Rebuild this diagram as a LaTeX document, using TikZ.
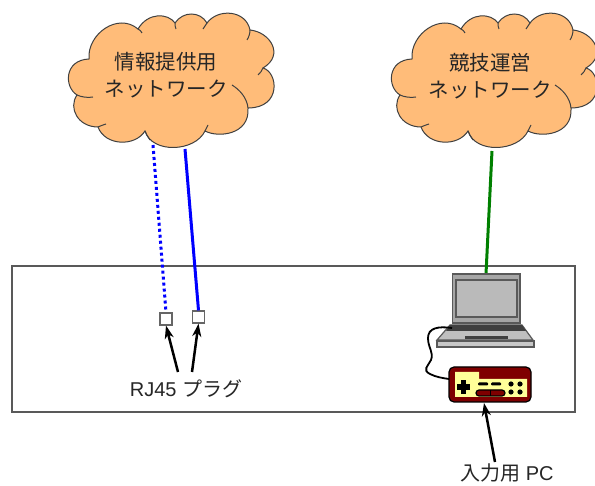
\documentclass[tikz,border=0pt]{standalone}
\usepackage{fontspec}
\setmainfont{Liberation Sans}
\newfontfamily\cjk{Noto Sans CJK JP}
\usetikzlibrary{arrows.meta}
\definecolor{cloudfill}{HTML}{FFBC79}
\definecolor{cloudline}{HTML}{404040}
\definecolor{padred}{HTML}{7F0000}
\definecolor{padyellow}{HTML}{FFFF99}
\newcommand{\cloudoutline}{
  (89,59) .. controls (87,34) and (118,12) .. (138,29)
  .. controls (148,12) and (168,13) .. (175,23)
  .. controls (183,11) and (200,11) .. (207,23)
  .. controls (218,8) and (246,10) .. (250,30)
  .. controls (270,32) and (285,55) .. (263,68)
  .. controls (278,72) and (282,108) .. (248,108)
  .. controls (250,135) and (218,138) .. (205,131)
  .. controls (195,152) and (152,154) .. (145,131)
  .. controls (135,147) and (105,146) .. (98,127)
  .. controls (78,127) and (68,108) .. (77,95)
  .. controls (64,87) and (64,60) .. (89,59) -- cycle
}
\newcommand{\cloudinner}{
  (77,95) .. controls (81,97) and (88,98) .. (93,97)
  (98,127) .. controls (100,126) and (103,125) .. (106,124)
  (145,131) .. controls (146,134) and (148,137) .. (150,140)
  (205,131) .. controls (206,129) and (207,127) .. (208,125)
  (248,108) .. controls (247,98) and (240,90) .. (232,85)
  (263,68) .. controls (262,71) and (260,73) .. (258,75)
  (250,30) .. controls (250,33) and (249,37) .. (247,40)
  (207,23) .. controls (206,25) and (204,27) .. (203,29)
  (175,23) .. controls (175,25) and (175,27) .. (176,29)
  (138,29) .. controls (140,30) and (141,31) .. (142,33)
}
\tikzset{
  cloudshape/.style={draw=cloudline,line width=1pt,fill=cloudfill},
  cloudcrease/.style={draw=cloudline,line width=1pt},
  cloudtext/.style={font=\cjk\fontsize{20.5}{27}\selectfont,align=center,inner sep=0pt,text=black!85},
  labeltext/.style={font=\fontsize{20}{24}\selectfont,inner sep=0pt,text=black!85},
  plug/.style={draw=black!60,line width=1.2pt,fill=white,minimum size=12pt,inner sep=0pt},
  wire/.style={line width=3pt},
  pointer/.style={line width=2.5pt,black,-{Stealth[length=13pt,width=9pt,inset=4pt]}},
  cabinet/.style={draw=black!65,line width=1.2pt},
  lapline/.style={draw=black!65,line width=1.2pt},
}
\begin{document}
\begin{tikzpicture}[x=1pt,y=-1pt]
\useasboundingbox (0,0) rectangle (595,486);
\fill[white] (0,0) rectangle (595,486);
% enclosure
\draw[cabinet] (12,266) rectangle (575,412);
% clouds
\path[cloudshape] \cloudoutline;
\path[cloudcrease] \cloudinner;
\begin{scope}[xshift=323pt]
\path[cloudshape] \cloudoutline;
\path[cloudcrease] \cloudinner;
\end{scope}
\node[cloudtext] (net1) at (166,75) {情報提供用\\ネットワーク};
\node[cloudtext] (net2) at (490,76) {競技運営\\ネットワーク};
\coordinate (net1a) at (153,145);
\coordinate (net1b) at (185,149);
\coordinate (net2a) at (492,151);
\coordinate (lapTop) at (486,274);
% plugs
\node[plug] (plugA) at (166,319) {};
\node[plug] (plugB) at (198.5,317) {};
\draw[wire,blue,line cap=butt,dash pattern=on 3pt off 3pt] (net1a) -- (plugA.north);
\draw[wire,blue] (net1b) -- (plugB.north);
\draw[wire,green!50!black] (net2a) -- (lapTop);
% laptop
\draw[lapline,fill=black!35] (452.5,274) rectangle (520,323);
\draw[draw=black!65,line width=1.2pt,fill=black!27] (456,280) rectangle (517,317);
\draw[lapline,fill=black!25] (450,325) -- (522,325) -- (533,340) -- (437,340) -- cycle;
\fill[black!75] (450,325) -- (522,325) -- (526,331) -- (446,331) -- cycle;
\fill[black!75] (465,336) rectangle (508,339);
\draw[lapline,fill=black!22] (437,341) rectangle (534,347);
% cable
\coordinate (lapPort) at (452,328);
\coordinate (padPort) at (449,379);
\draw[line width=1.8pt,black] (lapPort) .. controls (438,326) and (428,328) .. (428,338)
  .. controls (428,348) and (434,352) .. (431,360)
  .. controls (428,366) and (422,370) .. (430,374)
  .. controls (436,377) and (442,378) .. (padPort);
% game pad
\draw[draw=black,line width=1.2pt,fill=padred,rounded corners=5pt] (449,367) rectangle (531,402);
\fill[padyellow] (455,372) -- (479,372) -- (479,379) -- (527,379) -- (527,397) -- (455,397) -- cycle;
\fill[black] (460.5,380) rectangle (466,394);
\fill[black] (456.5,384.5) rectangle (470,390);
\fill[black,rounded corners=1pt] (478,382.5) rectangle (488,385.5);
\fill[black,rounded corners=1pt] (491,382.5) rectangle (501,385.5);
\foreach \dx/\dy in {511/384,520/384,511/392,520/392}{\fill[black] (\dx,\dy) circle (2.6pt);}
\draw[draw=black,line width=1.2pt,fill=padred,rounded corners=3pt] (476,390) rectangle (505,396);
\draw[black,line width=1pt] (490,390) -- (490,396);
% labels and pointers
\node[labeltext] (rj) at (186,389) {RJ45 {\cjk プラグ}};
\node[labeltext] (pc) at (507,473) {{\cjk 入力用} PC};
\coordinate (rjA) at (178,372);
\coordinate (rjB) at (192,372);
\coordinate (pcA) at (495,462);
\coordinate (padBottom) at (484,403);
\draw[pointer] (rjA) -- (plugA.south);
\draw[pointer] (rjB) -- (plugB.south);
\draw[pointer] (pcA) -- (padBottom);
\end{tikzpicture}
\end{document}
